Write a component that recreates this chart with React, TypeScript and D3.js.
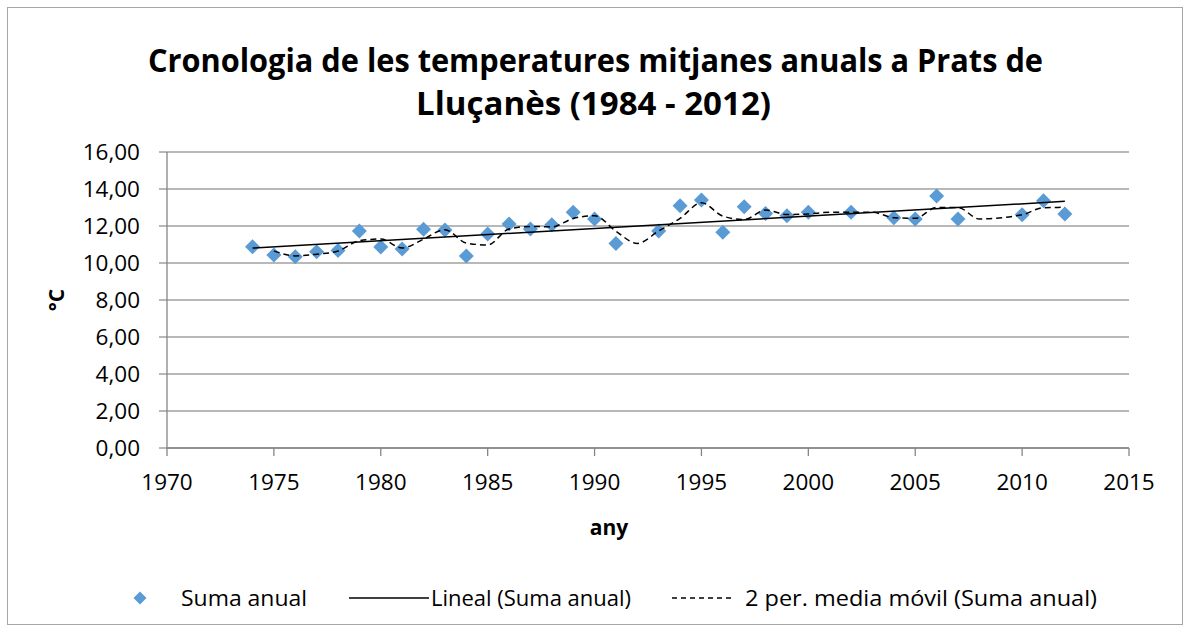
import React from "react";
import * as d3 from "d3";

const years: number[] = [1974,1975,1976,1977,1978,1979,1980,1981,1982,1983,1984,1985,1986,1987,1988,1989,1990,1991,1992,1993,1994,1995,1996,1997,1998,1999,2000,2001,2002,2003,2004,2005,2006,2007,2008,2009,2010,2011,2012];
const temps: (number | null)[] = [10.88,10.43,10.34,10.61,10.68,11.73,10.86,10.76,11.82,11.78,10.38,11.57,12.11,11.84,12.07,12.74,12.38,11.06,null,11.73,13.10,13.41,11.66,13.04,12.68,12.56,12.74,null,12.74,null,12.45,12.38,13.62,12.38,null,null,12.61,13.37,12.65];
const yTicks: number[] = [0,2,4,6,8,10,12,14,16];
const xTicks: number[] = [1970,1975,1980,1985,1990,1995,2000,2005,2010,2015];
const titleLines: string[] = ["Cronologia de les temperatures mitjanes anuals a Prats de", "Lluçanès (1984 - 2012)"];
const legendLabels: string[] = ["Suma anual", "Lineal (Suma anual)", "2 per. media móvil (Suma anual)"];

const W = 1186, H = 632;
const left = 167, right = 1129, top = 152, bottom = 448;
const FONT = "'Open Sans', sans-serif";
const BLUE = "#5B9BD5";

function diamond(cx: number, cy: number, r: number) {
  return `M${cx},${cy - r}L${cx + r},${cy}L${cx},${cy + r}L${cx - r},${cy}Z`;
}

export default function App() {
  const x = d3.scaleLinear().domain([1970, 2015]).range([left, right]);
  const y = d3.scaleLinear().domain([0, 16]).range([bottom, top]);

  const pts = years.map((yr, i) => ({ yr, v: temps[i] })).filter(d => d.v !== null) as { yr: number; v: number }[];

  // linear regression trendline
  const mx = d3.mean(pts, d => d.yr)!;
  const my = d3.mean(pts, d => d.v)!;
  const sxy = d3.sum(pts, d => (d.yr - mx) * (d.v - my));
  const sxx = d3.sum(pts, d => (d.yr - mx) ** 2);
  const slope = sxy / sxx;
  const icpt = my - slope * mx;
  const x0 = pts[0].yr, x1 = pts[pts.length - 1].yr;

  // 2-period moving average
  const ma: { yr: number; v: number }[] = [];
  for (let i = 1; i < years.length; i++) {
    const vals = [temps[i - 1], temps[i]].filter(v => v !== null) as number[];
    if (vals.length) ma.push({ yr: years[i], v: d3.mean(vals)! });
  }
  const maLine = d3.line<{ yr: number; v: number }>().x(d => x(d.yr)).y(d => y(d.v)).curve(d3.curveMonotoneX);

  const fmt = (v: number) => v.toFixed(2).replace(".", ",");

  return (
    <svg width={W} height={H} style={{ position: "absolute", left: 0, top: 0, background: "#fff" }}>
      <rect x={7.5} y={7.5} width={1175} height={617} fill="#fff" stroke="#A6A6A6" strokeWidth={1} />
      <text x={595.5} y={72} textAnchor="middle" fontFamily={FONT} fontWeight="bold" fontSize={32} fill="#000" textLength={895} lengthAdjust="spacingAndGlyphs">{titleLines[0]}</text>
      <text x={593.5} y={115} textAnchor="middle" fontFamily={FONT} fontWeight="bold" fontSize={32} fill="#000" textLength={355} lengthAdjust="spacingAndGlyphs">{titleLines[1]}</text>
      {yTicks.map(t => (
        <g key={t}>
          <line x1={left - 8} x2={right} y1={y(t)} y2={y(t)} stroke="#A0A0A0" strokeWidth={1.3} />
          <text x={140} y={y(t) + 8} textAnchor="end" fontFamily={FONT} fontSize={22.5} fill="#000">{fmt(t)}</text>
        </g>
      ))}
      <line x1={left} x2={left} y1={top} y2={bottom + 1} stroke="#868686" strokeWidth={1.3} />
      <line x1={left} x2={right} y1={bottom} y2={bottom} stroke="#868686" strokeWidth={1.3} />
      {xTicks.map(t => (
        <g key={t}>
          <line x1={x(t)} x2={x(t)} y1={bottom} y2={bottom + 8} stroke="#868686" strokeWidth={1.3} />
          <text x={x(t)} y={bottom + 42} textAnchor="middle" fontFamily={FONT} fontSize={22.5} fill="#000">{t}</text>
        </g>
      ))}
      <text x={609} y={535} textAnchor="middle" fontFamily={FONT} fontWeight="bold" fontSize={21}>any</text>
      <text transform={`translate(64,${(top + bottom) / 2}) rotate(-90)`} textAnchor="middle" fontFamily={FONT} fontWeight="bold" fontSize={21}>°C</text>
      {pts.map(d => (
        <path key={d.yr} d={diamond(x(d.yr), y(d.v), 7.5)} fill={BLUE} />
      ))}
      <line x1={x(x0)} y1={y(slope * x0 + icpt)} x2={x(x1)} y2={y(slope * x1 + icpt)} stroke="#000" strokeWidth={1.5} />
      <path d={maLine(ma) || ""} fill="none" stroke="#000" strokeWidth={1.5} strokeDasharray="6,4" />
      {/* legend */}
      <path d={diamond(140, 598, 6.5)} fill={BLUE} />
      <text x={181} y={606} fontFamily={FONT} fontSize={22} textLength={126} lengthAdjust="spacingAndGlyphs">{legendLabels[0]}</text>
      <line x1={349} x2={429} y1={598} y2={598} stroke="#000" strokeWidth={1.5} />
      <text x={431} y={606} fontFamily={FONT} fontSize={22} textLength={200} lengthAdjust="spacingAndGlyphs">{legendLabels[1]}</text>
      <line x1={672} x2={731} y1={598} y2={598} stroke="#000" strokeWidth={1.5} strokeDasharray="5,4" />
      <text x={745} y={606} fontFamily={FONT} fontSize={22} textLength={352} lengthAdjust="spacingAndGlyphs">{legendLabels[2]}</text>
    </svg>
  );
}
